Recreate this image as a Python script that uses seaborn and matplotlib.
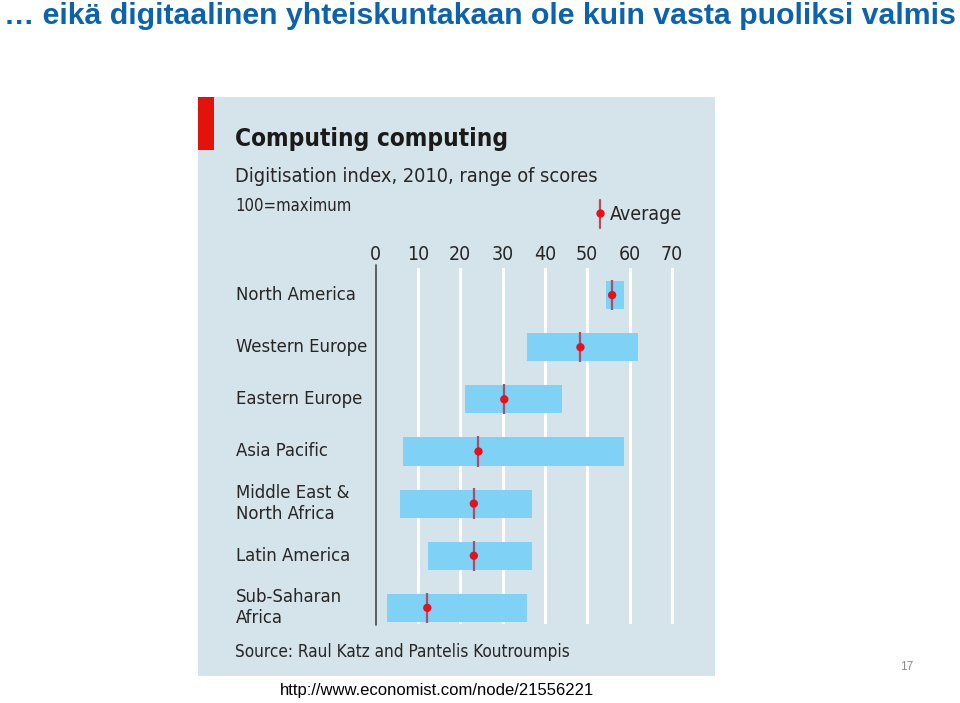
import numpy as np
import pandas as pd
import seaborn as sns
import matplotlib.pyplot as plt
from matplotlib.patches import Rectangle
from matplotlib.lines import Line2D
from matplotlib.font_manager import FontProperties

# data (digitisation index, 2010)
regions = ["North America", "Western Europe", "Eastern Europe", "Asia Pacific",
           "Middle East &\nNorth Africa", "Latin America", "Sub-Saharan\nAfrica"]
low = [54.4, 35.7, 21.1, 6.4, 5.8, 12.4, 2.7]
high = [58.6, 61.9, 44.0, 58.6, 36.9, 36.9, 35.8]
average = [55.9, 48.4, 30.4, 24.3, 23.2, 23.2, 12.2]
ticks = [0, 10, 20, 30, 40, 50, 60, 70]

df = pd.DataFrame({"region": regions, "low": low, "high": high, "avg": average})
df["pos"] = np.arange(len(df))

sns.set_theme(style="white")
plt.rcParams["font.family"] = ["Liberation Sans", "DejaVu Sans"]


def cond(size, bold=False):
    return FontProperties(family="DejaVu Sans", stretch="condensed",
                          weight="bold" if bold else "normal", size=size)


W, H = 960, 703
fig = plt.figure(figsize=(W / 100, H / 100), dpi=100)
fig.patch.set_facecolor("white")


def fx(x):
    return x / W


def fy(y):
    return 1 - y / H


# slide title
fig.text(fx(4), fy(16), "\u2026 eikä digitaalinen yhteiskuntakaan ole kuin vasta puoliksi valmis",
         color="#0b63ad", family="Liberation Sans", fontweight="bold", fontsize=21.8,
         va="center", ha="left")

# chart panel
bg = "#d5e3ea"
fig.patches.append(Rectangle((fx(198), fy(676)), fx(715) - fx(198), fy(97) - fy(676),
                             transform=fig.transFigure, facecolor=bg, edgecolor="none", zorder=-2))
fig.patches.append(Rectangle((fx(198), fy(150)), fx(214) - fx(198), fy(97) - fy(150),
                             transform=fig.transFigure, facecolor="#e3120b", edgecolor="none", zorder=-1))

ink = "#262626"
fig.text(fx(235), fy(139), "Computing computing", fontproperties=cond(17.5, True), color="#1a1a1a", va="center")
fig.text(fx(235), fy(177), "Digitisation index, 2010, range of scores", fontproperties=cond(14.3),
         color=ink, va="center")
fig.text(fx(235), fy(206), "100=maximum", fontproperties=cond(12), color=ink, va="center")
fig.text(fx(235), fy(652), "Source: Raul Katz and Pantelis Koutroumpis", fontproperties=cond(12.3),
         color=ink, va="center")

# legend
fig.lines.append(Line2D([fx(600), fx(600)], [fy(200), fy(228)], transform=fig.transFigure,
                        color="#b0505f", lw=1.6))
fig.lines.append(Line2D([fx(600)], [fy(213)], transform=fig.transFigure, marker="o",
                        markersize=5, color="#e8101a", lw=0))
fig.text(fx(610), fy(215), "Average", fontproperties=cond(14), color=ink, va="center")

# data axes
left_px, right_px, top_px, bot_px = 375.7, 715, 268, 624
ax = fig.add_axes([fx(left_px), fy(bot_px), fx(right_px) - fx(left_px), fy(top_px) - fy(bot_px)])
ax.set_zorder(5)
ax.set_facecolor("none")
ax.set_xlim(0, (right_px - left_px) / 4.23)
ax.set_ylim(6.31, -0.52)

for t in ticks[1:]:
    ax.axvline(t, color="white", lw=2.2, zorder=1)
ax.plot([0, 0], [-0.58, 6.33], color="#555555", lw=1.3, zorder=1, clip_on=False)

ax.barh(df["pos"], df["high"] - df["low"], left=df["low"], height=0.54,
        color="#7fd1f5", edgecolor="none", zorder=2)
ax.vlines(df["avg"], df["pos"] - 0.29, df["pos"] + 0.29, color="#a8506a", lw=1.6, zorder=3)
sns.scatterplot(data=df, x="avg", y="pos", color="#e8101a", s=36, edgecolor="none",
                zorder=4, ax=ax, legend=False)

ax.set_xlabel("")
ax.set_ylabel("")
ax.set_xticks([])
ax.set_yticks([])
for s in ax.spines.values():
    s.set_visible(False)

# tick labels on top
for t in ticks:
    ax.text(t, -0.52 - 14 / 52.2, str(t), ha="center", va="center",
            fontproperties=cond(14), color=ink, clip_on=False)

# region labels
lab_x = (236 - left_px) / 4.23
for p, r in zip(df["pos"], df["region"]):
    ax.text(lab_x, p, r, ha="left", va="center", fontproperties=cond(13.2), color=ink,
            clip_on=False, linespacing=1.2)

# footer
fig.text(fx(437), fy(690), "http://www.economist.com/node/21556221", ha="center", va="center",
         family="Liberation Sans", fontsize=12, color="black")
fig.text(fx(907), fy(667), "17", ha="center", va="center", family="Liberation Sans",
         fontsize=8.5, color="#8a8a8a")

plt.savefig("out.png", dpi=100, facecolor="white")
